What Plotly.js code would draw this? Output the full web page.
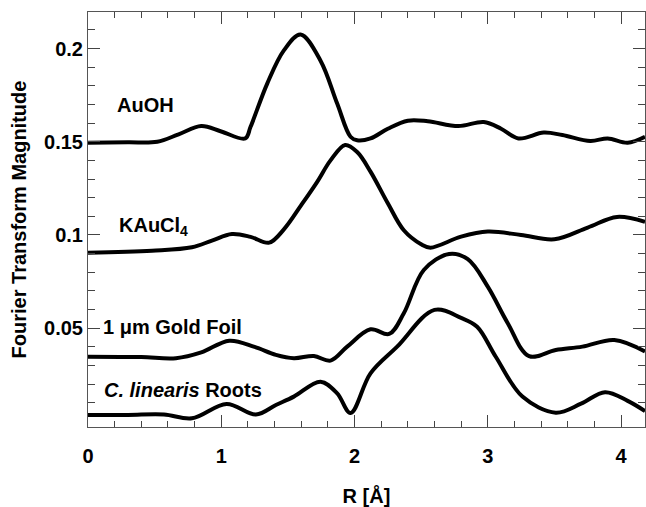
<!DOCTYPE html>
<html>
<head>
<meta charset="utf-8">
<script src="https://cdn.plot.ly/plotly-3.0.1.min.js"></script>
<style>html,body{margin:0;padding:0;background:#fff;}#chart{width:646px;height:507px;}</style>
</head>
<body>
<div id="chart"></div>
<script>
// R [Å] positions and Fourier transform magnitudes
const auohR = [0, 0.3, 0.52, 0.68, 0.85, 1.0, 1.18, 1.22, 1.345, 1.47, 1.595, 1.745, 1.87, 1.97, 2.02, 2.12, 2.25, 2.4, 2.55, 2.78, 2.97, 3.1, 3.23, 3.42, 3.56, 3.77, 3.90, 4.05, 4.18];
const auohY = [0.1495, 0.1497, 0.1500, 0.1540, 0.1584, 0.1555, 0.1518, 0.1580, 0.1812, 0.1990, 0.2075, 0.1935, 0.1705, 0.1527, 0.1508, 0.1518, 0.1570, 0.1613, 0.1610, 0.1584, 0.1606, 0.1570, 0.1518, 0.1549, 0.1536, 0.1504, 0.1518, 0.1495, 0.1527];

const kaucl4R = [0, 0.48, 0.78, 0.93, 1.08, 1.22, 1.36, 1.47, 1.6, 1.72, 1.82, 1.93, 2.02, 2.12, 2.25, 2.37, 2.5, 2.57, 2.8, 3.0, 3.25, 3.5, 3.75, 3.97, 4.18];
const kaucl4Y = [0.0905, 0.0916, 0.0934, 0.0970, 0.1005, 0.0990, 0.0959, 0.1030, 0.1160, 0.1285, 0.1400, 0.1483, 0.1445, 0.1340, 0.1170, 0.1025, 0.0950, 0.0932, 0.0991, 0.1018, 0.1000, 0.0977, 0.1040, 0.1097, 0.1070];

const foilR = [0, 0.4, 0.66, 0.85, 1.06, 1.25, 1.41, 1.545, 1.695, 1.82, 1.945, 2.12, 2.26, 2.37, 2.52, 2.71, 2.85, 3.0, 3.15, 3.31, 3.51, 3.71, 3.95, 4.18];
const foilY = [0.0347, 0.0345, 0.0339, 0.0370, 0.0433, 0.0400, 0.0357, 0.0339, 0.0351, 0.0326, 0.0401, 0.0494, 0.0469, 0.0580, 0.0812, 0.0898, 0.0870, 0.0723, 0.0527, 0.0350, 0.0383, 0.0401, 0.0437, 0.0375];

const rootsR = [0, 0.3, 0.57, 0.78, 1.04, 1.26, 1.41, 1.545, 1.745, 1.87, 1.97, 2.12, 2.32, 2.6, 2.8, 2.92, 3.06, 3.26, 3.51, 3.7, 3.88, 4.05, 4.18];
const rootsY = [0.0035, 0.0035, 0.0037, 0.0017, 0.0094, 0.0037, 0.0088, 0.0133, 0.0213, 0.0150, 0.0045, 0.0258, 0.0401, 0.0598, 0.0555, 0.0508, 0.0347, 0.0133, 0.0047, 0.0095, 0.0157, 0.0110, 0.0055];

const seriesNames = ["AuOH", "KAuCl<sub>4</sub>", "1 μm Gold Foil", "<i>C. linearis</i> Roots"];
const labelR = [0.206, 0.22, 0.094, 0.107];
const labelY = [0.1697, 0.1043, 0.0507, 0.0166];

const yTickVals = [0.05, 0.1, 0.15, 0.2];
const yTickText = ["0.05", "0.1", "0.15", "0.2"];
const yMinorVals = [0.01,0.02,0.03,0.04,0.06,0.07,0.08,0.09,0.11,0.12,0.13,0.14,0.16,0.17,0.18,0.19,0.21];
const xTickVals = [0, 1, 2, 3, 4];
const xMinorVals = [0.2,0.4,0.6,0.8,1.2,1.4,1.6,1.8,2.2,2.4,2.6,2.8,3.2,3.4,3.6,3.8,4.2];

const FONT = "Liberation Sans, Arial, Helvetica, sans-serif";
const lineStyle = {color: "#000", width: 4, shape: "spline", smoothing: 1.0};

const xs = [auohR, kaucl4R, foilR, rootsR];
const ys = [auohY, kaucl4Y, foilY, rootsY];
const traces = xs.map((x, i) => ({
  x: x, y: ys[i], type: "scatter", mode: "lines", name: seriesNames[i],
  line: lineStyle, hoverinfo: "skip"
}));

const annotations = seriesNames.map((t, i) => ({
  x: labelR[i], y: labelY[i], xref: "x", yref: "y", text: t,
  showarrow: false, xanchor: "left", yanchor: "middle",
  font: {family: FONT, size: 20, color: "#000", weight: "bold"}
}));

const axisCommon = {
  showline: true, linecolor: "#555", linewidth: 1, mirror: "ticks",
  ticks: "inside", ticklen: 12, tickwidth: 1, tickcolor: "#444",
  showgrid: false, zeroline: false,
  tickfont: {family: FONT, size: 20, color: "#000", weight: "bold"}
};

const layout = {
  width: 646, height: 507,
  margin: {l: 88, r: 1, t: 12, b: 80},
  paper_bgcolor: "#fff", plot_bgcolor: "#fff",
  showlegend: false,
  xaxis: Object.assign({}, axisCommon, {
    range: [0, 4.18], tickmode: "array", tickvals: xTickVals,
    ticklabelstandoff: 11,
    minor: {tickmode: "array", tickvals: xMinorVals, ticks: "inside", ticklen: 6, tickwidth: 1, tickcolor: "#444"},
    title: {text: "R [Å]", font: {family: FONT, size: 20, color: "#000", weight: "bold"}, standoff: 22}
  }),
  yaxis: Object.assign({}, axisCommon, {
    range: [-0.003, 0.2196], tickmode: "array", tickvals: yTickVals, ticktext: yTickText,
    minor: {tickmode: "array", tickvals: yMinorVals, ticks: "inside", ticklen: 7, tickwidth: 1, tickcolor: "#444"},
    title: {text: "Fourier Transform Magnitude", font: {family: FONT, size: 20, color: "#000", weight: "bold"}, standoff: 12}
  }),
  annotations: annotations
};

Plotly.newPlot("chart", traces, layout, {displayModeBar: false, staticPlot: true});
</script>
</body>
</html>
